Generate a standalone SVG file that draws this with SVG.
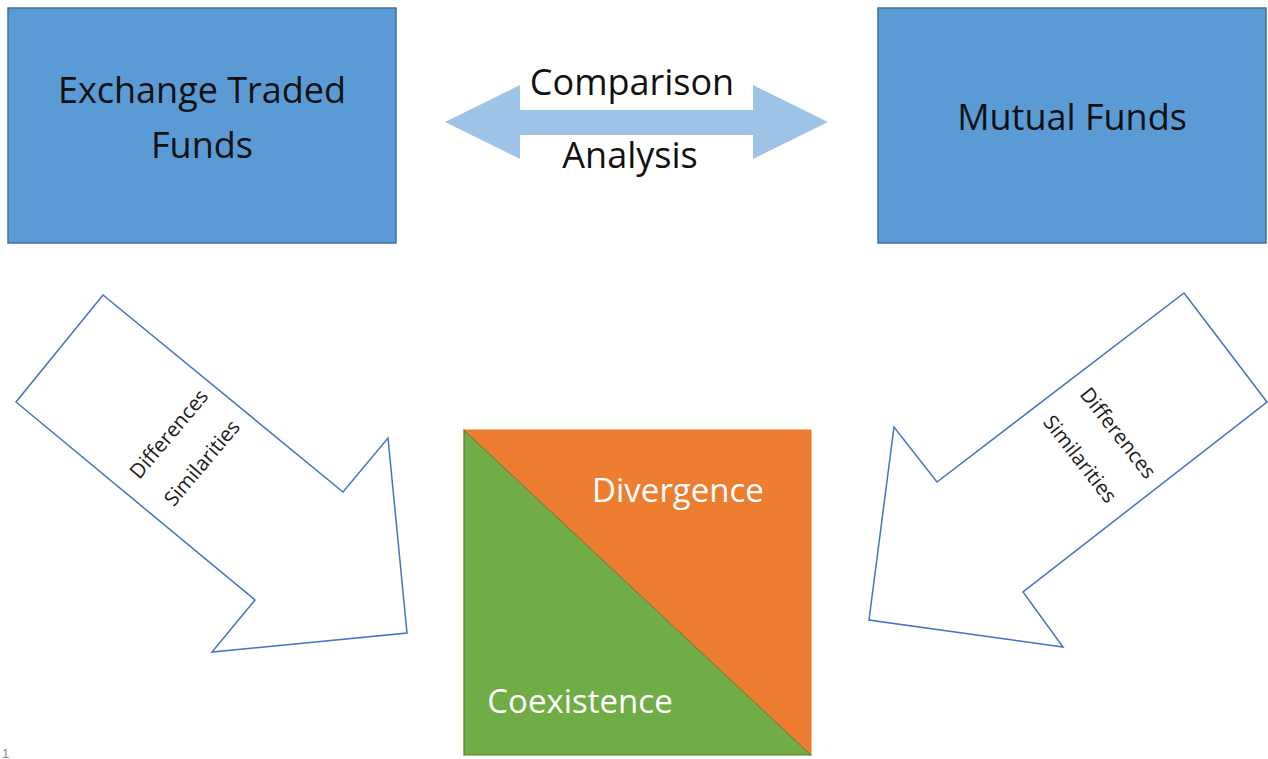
<svg xmlns="http://www.w3.org/2000/svg" width="1268" height="759" viewBox="0 0 1268 759">
<style>
.box{fill:#5B9BD5;stroke:#41719C;stroke-width:1.5}
.t{font-family:"Open Sans","Liberation Sans",sans-serif;text-anchor:middle}
.dark{fill:#111111;font-size:36px}
.white{fill:#FFFFFF;font-size:33px}
.small{fill:#1A1A1A;font-size:20.5px}
.outline{fill:#FFFFFF;stroke:#4472C4;stroke-width:1.5;stroke-linejoin:miter}
</style>
<rect width="1268" height="759" fill="#FFFFFF"/>
<g id="etf">
<rect class="box" x="8" y="8" width="388" height="235"/>
<text class="t dark" x="202" y="103">Exchange Traded</text>
<text class="t dark" x="202" y="158">Funds</text>
</g>
<g id="mutual-funds">
<rect class="box" x="878" y="8" width="388" height="235"/>
<text class="t dark" x="1072" y="130">Mutual Funds</text>
</g>
<g id="outcome">
<polygon points="464,430 811,755 464,755" fill="#70AD47" stroke="#507E32" stroke-width="1.2"/>
<polygon points="464,430 811,430 811,755" fill="#ED7D31" stroke="#ED7D31" stroke-width="1"/>
<line x1="464" y1="430" x2="811" y2="755" stroke="#6A7A3A" stroke-width="0.8"/>
<text class="t white" x="678" y="502">Divergence</text>
<text class="t white" x="580" y="713">Coexistence</text>
</g>
<g id="connectors">
<g id="comparison-arrow">
<polygon points="445,122 520,85 520,110 753,110 753,85 828,122 753,159 753,135 520,135 520,159" fill="#9DC3E6"/>
<rect x="520" y="62" width="233" height="47" fill="#FFFFFF"/>
<rect x="520" y="136" width="233" height="44" fill="#FFFFFF"/>
<text class="t dark" x="632" y="95">Comparison</text>
<text class="t dark" x="630" y="168">Analysis</text>
</g>
<g id="left-arrow">
<polygon class="outline" points="103,295 16,402 255,600 212,652 407,633 388,438 343,492"/>
<text class="t small" transform="translate(169,434) rotate(-50)" x="0" y="7">Differences</text>
<text class="t small" transform="translate(202,463) rotate(-50)" x="0" y="7">Similarities</text>
</g>
<g id="right-arrow">
<polygon class="outline" points="1184,293 1267,402 1023,592 1063,647 869,620 894,427 937,482"/>
<text class="t small" transform="translate(1118,433) rotate(52)" x="0" y="7">Differences</text>
<text class="t small" transform="translate(1080,459) rotate(52)" x="0" y="7">Similarities</text>
</g>
</g>
<text x="2" y="758" font-family="Liberation Sans, sans-serif" font-size="13" fill="#888888">1</text>
</svg>
